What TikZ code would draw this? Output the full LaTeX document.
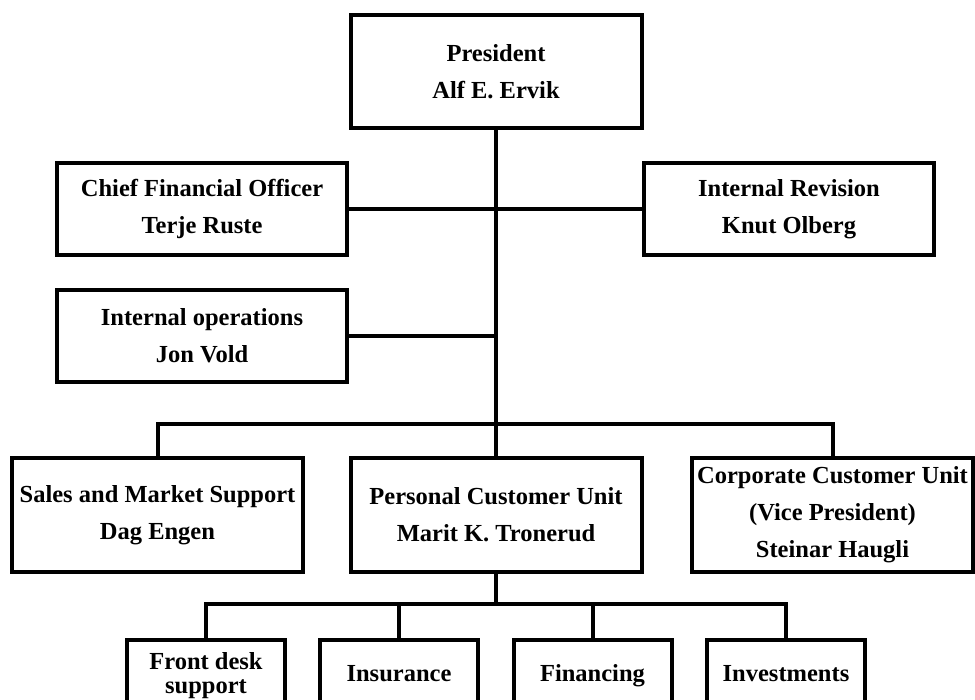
\documentclass[tikz,border=0pt]{standalone}
\usepackage{fontspec}
\setmainfont{Liberation Serif}
\begin{document}
\begin{tikzpicture}[x=1pt,y=-1pt,
  every node/.style={font=\bfseries\fontsize{24.5}{37}\selectfont},
  unit/.style={draw, line width=4pt, align=center, inner sep=0pt,
    minimum width=291pt, minimum height=114pt},
  staff/.style={unit, minimum width=290pt, minimum height=92pt},
  team/.style={draw, line width=4pt, align=center, inner sep=0pt,
    minimum width=158pt, minimum height=68pt},
  link/.style={line width=4pt}]
\useasboundingbox (0,0) rectangle (975,700);
\clip (0,0) rectangle (975,700);

% top of the tree
\node[unit, minimum height=113pt] (pres) at (496,71.5) {President\\Alf E. Ervik};
\node[staff] (cfo) at (202,209) {Chief Financial Officer\\Terje Ruste};
\node[staff] (rev) at (789,209) {Internal Revision\\Knut Olberg};
\node[staff] (ops) at (202,336) {Internal operations\\Jon Vold};

% business units
\node[unit] (sales) at (157.5,515) {Sales and Market Support\\Dag Engen};
\node[unit] (pcu) at (496,515) {Personal Customer Unit\\Marit K. Tronerud};
\node[unit, minimum width=281pt] (ccu) at (832.5,515)
  {Corporate Customer Unit\\(Vice President)\\Steinar Haugli};

% teams under the personal customer unit
\node[team, minimum height=72pt, font=\bfseries\fontsize{24.5}{24}\selectfont] (desk) at (206,676) {Front desk\\support};
\node[team] (ins) at (399,674) {\strut Insurance};
\node[team] (fin) at (592.5,674) {\strut Financing};
\node[team] (inv) at (786,674) {\strut Investments};

% junction points
\coordinate (bus) at (496,424);
\coordinate (tbus) at (496,604);

% connectors
\draw[link] (pres.south) -- (bus);
\draw[link] (cfo.east) -- (rev.west);
\draw[link] (ops.east) -- (ops.east -| bus);
\draw[link] (sales.north) -- (sales.north |- bus) -- (ccu.north |- bus) -- (ccu.north);
\draw[link] (bus) -- (pcu.north);
\draw[link] (pcu.south) -- (tbus);
\draw[link] (desk.north) -- (desk.north |- tbus) -- (inv.north |- tbus) -- (inv.north);
\draw[link] (ins.north) -- (ins.north |- tbus);
\draw[link] (fin.north) -- (fin.north |- tbus);
\end{tikzpicture}
\end{document}
